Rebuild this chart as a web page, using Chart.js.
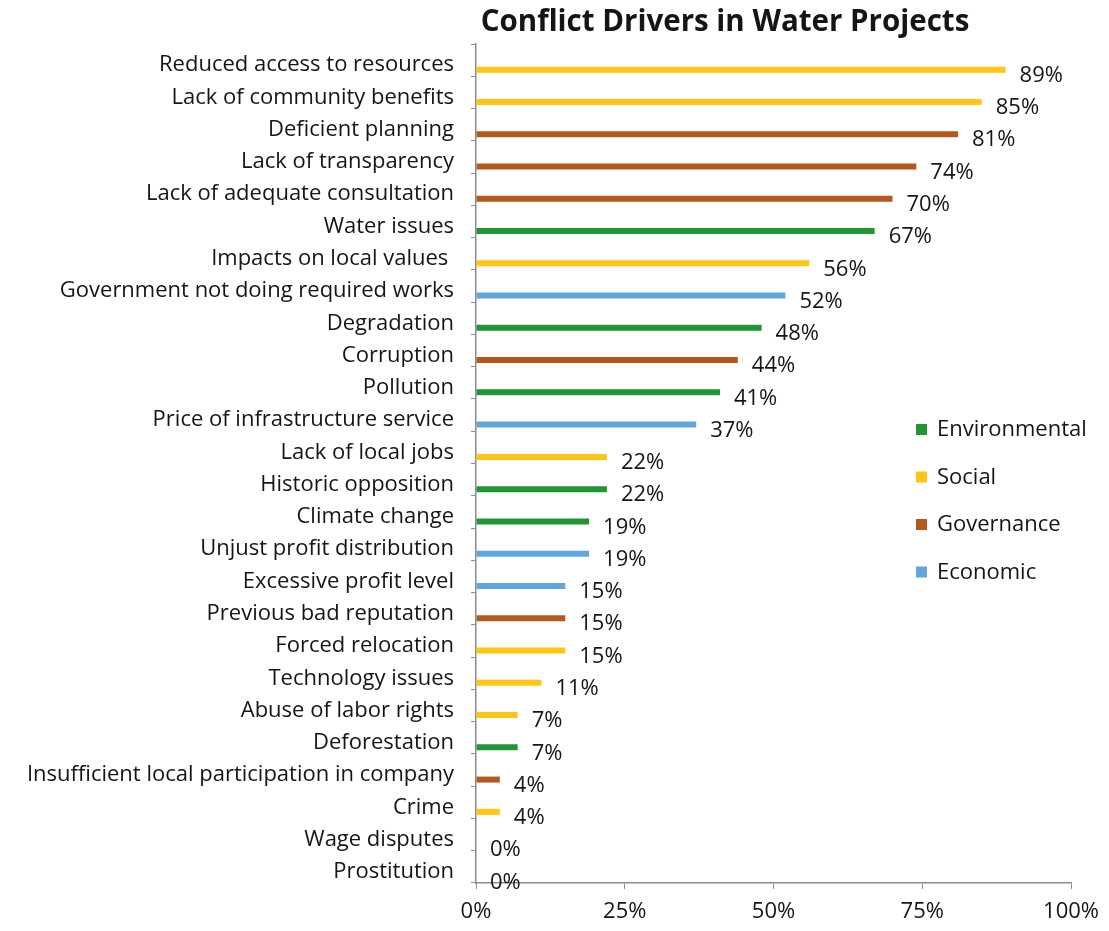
<!DOCTYPE html>
<html>
<head>
<meta charset="utf-8">
<title>Conflict Drivers in Water Projects</title>
<script src="https://cdn.jsdelivr.net/npm/chart.js@4/dist/chart.umd.min.js"></script>
<style>
  html, body { margin: 0; padding: 0; background: #fff; }
  #wrap { position: relative; width: 1109px; height: 931px; }
</style>
</head>
<body>
<div id="wrap"><canvas id="myChart" width="1109" height="931"></canvas></div>
<script>
// chart data
const drivers = [
  'Reduced access to resources',
  'Lack of community benefits',
  'Deficient planning',
  'Lack of transparency',
  'Lack of adequate consultation',
  'Water issues',
  'Impacts on local values ',
  'Government not doing required works',
  'Degradation',
  'Corruption',
  'Pollution',
  'Price of infrastructure service',
  'Lack of local jobs',
  'Historic opposition',
  'Climate change',
  'Unjust profit distribution',
  'Excessive profit level',
  'Previous bad reputation',
  'Forced relocation',
  'Technology issues',
  'Abuse of labor rights',
  'Deforestation',
  'Insufficient local participation in company',
  'Crime',
  'Wage disputes',
  'Prostitution'
];
const shares = [89, 85, 81, 74, 70, 67, 56, 52, 48, 44, 41, 37, 22, 22, 19, 19, 15, 15, 15, 11, 7, 7, 4, 4, 0, 0];
const driverGroup = [
  'Social', 'Social', 'Governance', 'Governance', 'Governance', 'Environmental',
  'Social', 'Economic', 'Environmental', 'Governance', 'Environmental', 'Economic',
  'Social', 'Environmental', 'Environmental', 'Economic', 'Economic', 'Governance',
  'Social', 'Social', 'Social', 'Environmental', 'Governance', 'Social',
  'Social', 'Social'
];
const groups = ['Environmental', 'Social', 'Governance', 'Economic'];
const xTicks = [0, 25, 50, 75, 100];

const groupColors = {
  Environmental: '#1f9632',
  Social: '#ffc512',
  Governance: '#b5581d',
  Economic: '#62a6de'
};
const FONT = '"Open Sans", Lato, sans-serif';
const TEXT = '#151515';
const AXIS = '#8c8c8c';

// value labels at the end of each bar
const valueLabels = {
  id: 'valueLabels',
  afterDatasetsDraw(chart) {
    const ctx = chart.ctx;
    const meta = chart.getDatasetMeta(1);
    ctx.save();
    ctx.font = '22px ' + FONT;
    ctx.fillStyle = TEXT;
    ctx.textAlign = 'left';
    ctx.textBaseline = 'middle';
    meta.data.forEach((bar, i) => {
      ctx.fillText(shares[i] + '%', bar.x + 14, bar.y + 6);
    });
    ctx.restore();
  }
};

// title and legend drawn on top of the plot like the original
const titleAndLegend = {
  id: 'titleAndLegend',
  afterDraw(chart) {
    const ctx = chart.ctx;
    ctx.save();
    ctx.font = 'bold 29.5px ' + FONT;
    ctx.fillStyle = TEXT;
    ctx.textAlign = 'center';
    ctx.textBaseline = 'middle';
    ctx.fillText('Conflict Drivers in Water Projects', 725, 23);

    ctx.font = '22px ' + FONT;
    ctx.textAlign = 'left';
    groups.forEach((g, i) => {
      const y = 430 + i * 47.5;
      ctx.fillStyle = groupColors[g];
      ctx.fillRect(916, y - 6, 11, 11);
      ctx.fillStyle = TEXT;
      ctx.fillText(g, 937, y);
    });
    ctx.restore();
  }
};

const data = {
  labels: drivers,
  datasets: [
    {
      // empty spacer so the real bars sit low in each band, as in the source
      label: '',
      data: drivers.map(() => null),
      backgroundColor: 'rgba(0,0,0,0)'
    },
    {
      label: 'Share of projects',
      data: shares,
      backgroundColor: driverGroup.map((g) => groupColors[g]),
      borderWidth: 0
    }
  ]
};

const config = {
  type: 'bar',
  data: data,
  options: {
    indexAxis: 'y',
    responsive: false,
    animation: false,
    maintainAspectRatio: false,
    categoryPercentage: 1.18,
    barPercentage: 0.9,
    maxBarThickness: 6,
    layout: {
      padding: { top: 44, right: 36, bottom: 0, left: 0 }
    },
    plugins: {
      legend: { display: false },
      title: { display: false },
      tooltip: { enabled: false }
    },
    scales: {
      x: {
        type: 'linear',
        min: 0,
        max: 100,
        afterBuildTicks: (scale) => {
          scale.ticks = xTicks.map((v) => ({ value: v }));
        },
        afterFit: (scale) => { scale.height = 48; },
        border: { color: AXIS, width: 1.5 },
        grid: { drawOnChartArea: false, drawTicks: true, tickLength: 6, color: AXIS },
        ticks: {
          padding: 10,
          color: TEXT,
          font: { family: FONT, size: 22 },
          callback: (v) => v + '%'
        }
      },
      y: {
        type: 'category',
        offset: true,
        afterFit: (scale) => { scale.width = 476; },
        border: { color: AXIS, width: 1.5 },
        grid: { drawOnChartArea: false, drawTicks: true, tickLength: 5, color: AXIS, offset: true },
        ticks: {
          padding: 17,
          labelOffset: 5,
          autoSkip: false,
          color: TEXT,
          font: { family: FONT, size: 22 }
        }
      }
    }
  },
  plugins: [valueLabels, titleAndLegend]
};

const myChart = new Chart(document.getElementById('myChart'), config);
</script>
</body>
</html>
